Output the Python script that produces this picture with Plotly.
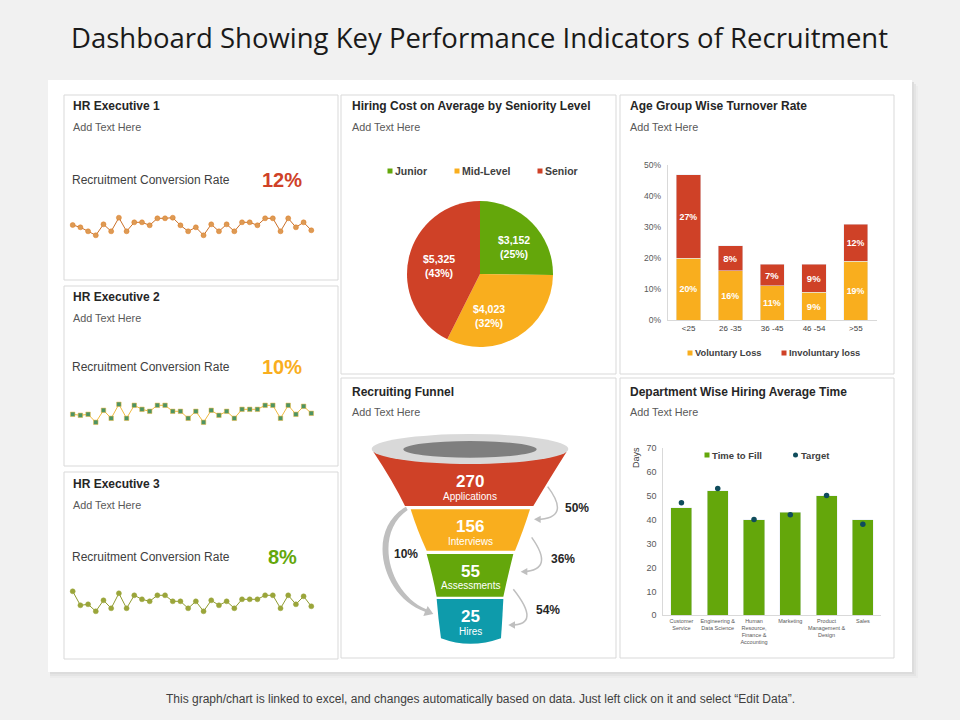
import plotly.graph_objects as go

# --- data ---
exec1_rate = [25, 22.7, 18.7, 14.7, 25.7, 18.7, 32.3, 18.7, 27.7, 27.7, 24.7, 31.7, 31.7, 32.3, 24.7, 18.7,
              22.7, 14.7, 25.7, 18.7, 25.7, 18.7, 27.7, 27.7, 24.7, 31.7, 31.7, 18.7, 31.7, 22.7, 27.7, 19.7]
exec2_rate = [20.7, 19.7, 20.7, 12.7, 24.7, 16.7, 30.7, 16.7, 29.7, 25.7, 23.7, 29.7, 29.7, 23.7, 23.7, 16.7,
              23.7, 12.7, 24.7, 19.7, 23.7, 16.7, 25.7, 25.7, 25.7, 29.7, 29.7, 16.7, 29.7, 20.7, 28.7, 21.7]
exec3_rate = [33.7, 19.7, 20.7, 13.7, 24.7, 16.7, 31.7, 16.7, 29.7, 25.7, 23.7, 29.7, 29.7, 23.7, 23.7, 16.7,
              23.7, 13.7, 24.7, 19.7, 23.7, 16.7, 25.7, 25.7, 25.7, 29.7, 29.7, 16.7, 29.7, 20.7, 28.7, 18.7]
periods = list(range(1, 33))

seniority = ['Junior', 'Mid-Level', 'Senior']
hiring_cost = [3152, 4023, 5325]
hiring_share = [25, 32, 43]

age_groups = ['<25', '26 -35', '36 -45', '46 -54', '>55']
voluntary = [20, 16, 11, 9, 19]
involuntary = [27, 8, 7, 9, 12]

departments = ['Customer<br>Service', 'Engineering &<br>Data Science', 'Human<br>Resource,<br>Finance &<br>Accounting',
               'Marketing', 'Product<br>Management &<br>Design', 'Sales']
time_to_fill = [45, 52, 40, 43, 50, 40]
target = [47, 53, 40, 42, 50, 38]

funnel_counts = [270, 156, 55, 25]
funnel_names = ['Applications', 'Interviews', 'Assessments', 'Hires']

RED = '#cf4127'
ORANGE = '#f9ae1e'
GREEN = '#64a70b'
TEAL = '#0f4c5c'
PAGE = '#f1f1f1'
FONT = 'Liberation Sans'


# page pixels to paper coordinates
def X(px):
    return px / 960


def Y(py):
    return 1 - py / 720


def box(x0, y0, x1, y1, **kw):
    return dict(type='rect', xref='paper', yref='paper', x0=X(x0), x1=X(x1), y0=Y(y0), y1=Y(y1), **kw)


def label(px, py, text, size=10, color='#404040', anchor='left', bold=False, **kw):
    if bold:
        text = '<b>' + text + '</b>'
    return dict(xref='paper', yref='paper', x=X(px), y=Y(py), text=text, showarrow=False, borderpad=0, borderwidth=0,
                xanchor=anchor, yanchor='middle', font=dict(family=FONT, size=size, color=color), **kw)


# funnel shapes are drawn in the zoomed crop's pixels, origin (345,430), scale 3
def Z(zx, zy):
    return '%.5f %.5f' % (X(345 + zx / 3), Y(430 + zy / 3))


def path(d, fill, line=None, width=0):
    return dict(type='path', xref='paper', yref='paper', path=d, fillcolor=fill, layer='above',
                line=dict(color=line or fill, width=width))


shapes = []
annotations = []

# card with soft shadow
for off, col in [(6, '#ececec'), (4, '#e4e4e4'), (2, '#dcdcdc')]:
    shapes.append(box(50, 80 + off, 912 + off, 672 + off, fillcolor=col, line=dict(width=0), layer='below'))
shapes.append(box(48, 80, 912, 672, fillcolor='white', line=dict(width=0), layer='below'))

# panels
panels = [(64, 95, 338, 280), (64, 286, 338, 466), (64, 472, 338, 659), (341, 95, 616, 374),
          (341, 378, 616, 658), (620, 95, 894, 374), (620, 378, 894, 658)]
for p in panels:
    shapes.append(box(*p, fillcolor='rgba(0,0,0,0)', line=dict(color='#d9d9d9', width=1), layer='below'))

titles = [(73, 106, 'HR Executive 1'), (73, 297, 'HR Executive 2'), (73, 484, 'HR Executive 3'),
          (352, 106, 'Hiring Cost on Average by Seniority Level'), (630, 106, 'Age Group Wise Turnover Rate'),
          (352, 392, 'Recruiting Funnel'), (630, 392, 'Department Wise Hiring Average Time')]
for tx, ty, t in titles:
    annotations.append(label(tx, ty, t, size=12, color='#262626', bold=True))
for tx, ty in [(73, 127), (73, 318), (73, 505), (352, 127), (630, 127), (352, 412), (630, 412)]:
    annotations.append(label(tx, ty, 'Add Text Here', size=10.8, color='#595959'))

for ty, big, col in [(180, '12%', RED), (367, '10%', ORANGE), (557, '8%', GREEN)]:
    annotations.append(label(72, ty, 'Recruitment Conversion Rate', size=12, color='#404040'))
    annotations.append(label(282, ty, big, size=20, color=col, anchor='center', bold=True))

# hand placed legends
for lx, ly, name, col, sz in [(390, 171, 'Junior', GREEN, 10.5), (457, 171, 'Mid-Level', ORANGE, 10.5),
                              (540, 171, 'Senior', RED, 10.5), (690, 353, 'Voluntary Loss', ORANGE, 9.3),
                              (784, 353, 'Involuntary loss', RED, 9.3), (707, 455, 'Time to Fill', GREEN, 9.5)]:
    shapes.append(box(lx - 2.5, ly - 2.5, lx + 2.5, ly + 2.5, fillcolor=col, line=dict(width=0)))
    annotations.append(label(lx + 5, ly, name, size=sz, color='#404040', bold=True))
shapes.append(dict(type='circle', xref='paper', yref='paper', x0=X(793), x1=X(798), y0=Y(452.5), y1=Y(457.5),
                   fillcolor=TEAL, line=dict(width=0)))
annotations.append(label(801, 455, 'Target', size=9.5, color='#404040', bold=True))
annotations.append(label(636, 458, 'Days', size=9, color='#404040', anchor='center', textangle=-90))

# pie labels
for (tx, ty), amount, share in zip([(514, 247), (489, 316), (439, 266)], hiring_cost, hiring_share):
    annotations.append(label(tx, ty, '${:,}<br>({}%)'.format(amount, share), size=10.5, color='white',
                             anchor='center', bold=True))

# funnel body
shapes.append(path('M' + Z(85, 65) + ' Q' + Z(145, 155) + ' ' + Z(180, 228) + ' L' + Z(565, 228)
                   + ' Q' + Z(608, 155) + ' ' + Z(665, 65) + ' Z', RED))
shapes.append(path('M' + Z(197, 238) + ' Q' + Z(218, 305) + ' ' + Z(245, 362) + ' L' + Z(510, 362)
                   + ' Q' + Z(534, 305) + ' ' + Z(555, 238) + ' Z', ORANGE))
shapes.append(path('M' + Z(245, 372) + ' Q' + Z(264, 440) + ' ' + Z(275, 500) + ' L' + Z(475, 500)
                   + ' Q' + Z(488, 440) + ' ' + Z(505, 372) + ' Z', GREEN))
shapes.append(path('M' + Z(275, 507) + ' Q' + Z(280, 570) + ' ' + Z(288, 625) + ' Q' + Z(375, 658) + ' ' + Z(468, 625)
                   + ' Q' + Z(472, 570) + ' ' + Z(475, 507) + ' Z', '#0e9bab'))
shapes.append(dict(type='circle', xref='paper', yref='paper', layer='above', fillcolor='#d9d9d9', line=dict(width=0),
                   x0=X(345 + 80 / 3), x1=X(345 + 670 / 3), y0=Y(430 + 12 / 3), y1=Y(430 + 102 / 3)))
shapes.append(dict(type='circle', xref='paper', yref='paper', layer='above', fillcolor='#7f7f7f', line=dict(width=0),
                   x0=X(345 + 175 / 3), x1=X(345 + 575 / 3), y0=Y(430 + 33 / 3), y1=Y(430 + 83 / 3)))

# conversion arrows: curve plus head
ARROW = '#bfbfbf'
for p0, c, p1 in [((608, 170), (680, 265), (575, 268)), ((560, 322), (630, 420), (535, 425)),
                  ((505, 478), (590, 585), (498, 585))]:
    shapes.append(dict(type='path', xref='paper', yref='paper', layer='above', line=dict(color=ARROW, width=1.5),
                       path='M' + Z(*p0) + ' Q' + Z(*c) + ' ' + Z(*p1)))
    shapes.append(path('M' + Z(p1[0] - 8, p1[1]) + ' L' + Z(p1[0] + 12, p1[1] - 11) + ' L' + Z(p1[0] + 12, p1[1] + 11) + ' Z',
                       ARROW))
shapes.append(path('M' + Z(183, 230) + ' C' + Z(60, 300) + ' ' + Z(110, 500) + ' ' + Z(240, 545) + ' L' + Z(235, 558)
                   + ' L' + Z(265, 552) + ' L' + Z(248, 528) + ' L' + Z(244, 538)
                   + ' C' + Z(130, 490) + ' ' + Z(85, 310) + ' ' + Z(188, 240) + ' Z', ARROW))

for tx, ty, t in [(695, 235, '50%'), (653, 388, '36%'), (608, 541, '54%'), (183, 373, '10%')]:
    annotations.append(label(345 + tx / 3, 430 + ty / 3, t, size=12, color='#262626', anchor='center', bold=True))

# funnel text from the counts
for i, (ny, ty) in enumerate([(155, 198), (290, 333), (425, 467), (560, 604)]):
    annotations.append(label(345 + 375 / 3, 430 + ny / 3, str(funnel_counts[i]), size=17, color='white', anchor='center', bold=True))
    annotations.append(label(345 + 375 / 3, 430 + ty / 3, funnel_names[i], size=10, color='white', anchor='center'))

annotations.append(label(480, 699, 'This graph/chart is linked to excel, and changes automatically based on data. '
                                   'Just left click on it and select “Edit Data”.', size=12, color='#404040', anchor='center'))

fig = go.Figure()

# sparklines
spark = [(exec1_rate, 'x', 'y', '#c9702a', '#dc9a55', '#e07b1f', 'circle', 5),
         (exec2_rate, 'x2', 'y2', '#f0b93f', '#4d9463', '#f0b93f', 'square', 4.5),
         (exec3_rate, 'x3', 'y3', '#8f9b30', '#9aa53a', '#9aa53a', 'circle', 5)]
for vals, xa, ya, lc, mc, oc, sym, ms in spark:
    fig.add_trace(go.Scatter(x=periods, y=vals, xaxis=xa, yaxis=ya, mode='lines+markers', showlegend=False,
                             line=dict(color=lc, width=1), cliponaxis=False,
                             marker=dict(color=mc, size=ms, symbol=sym, line=dict(color=oc, width=0.5))))

# pie
fig.add_trace(go.Pie(labels=seniority, values=hiring_cost, textinfo='none', sort=False,
                     direction='clockwise', rotation=0, showlegend=False,
                     marker=dict(colors=[GREEN, ORANGE, RED], line=dict(width=0)),
                     domain=dict(x=[X(407), X(553)], y=[Y(347), Y(201)])))

# turnover bars
fig.add_trace(go.Bar(x=age_groups, y=voluntary, name='Voluntary Loss', xaxis='x4', yaxis='y4', marker_color=ORANGE,
                     showlegend=False, texttemplate='%{y}', textposition='inside', insidetextanchor='middle',
                     textangle=0, textfont=dict(family=FONT, size=9.5, color='white', weight='bold')))
fig.add_trace(go.Bar(x=age_groups, y=involuntary, name='Involuntary loss', xaxis='x4', yaxis='y4', marker_color=RED,
                     showlegend=False, texttemplate='%{y}', textposition='inside', insidetextanchor='middle',
                     textangle=0, textfont=dict(family=FONT, size=9.5, color='white', weight='bold')))

# hiring time bars and target dots
fig.add_trace(go.Bar(x=departments, y=time_to_fill, name='Time to Fill', xaxis='x5', yaxis='y5', marker_color=GREEN,
                     showlegend=False))
fig.add_trace(go.Scatter(x=departments, y=target, name='Target', xaxis='x5', yaxis='y5', mode='markers', showlegend=False,
                         marker=dict(color=TEAL, size=5.5), cliponaxis=False))

hidden = dict(visible=False, fixedrange=True, automargin=False)
tick_font = dict(family=FONT, size=8.5, color='#595959')
axis_line = dict(showgrid=False, zeroline=False, showline=True, linecolor='#d9d9d9', ticks='', automargin=False)

fig.update_layout(
    width=960, height=720, margin=dict(l=0, r=0, t=0, b=0, pad=0, autoexpand=False), paper_bgcolor=PAGE,
    plot_bgcolor='rgba(0,0,0,0)',
    title=dict(text='Dashboard Showing Key Performance Indicators of Recruitment', x=X(479.5), y=Y(38),
               xanchor='center', yanchor='middle', font=dict(family='Open Sans', size=27.5, color='#1a1a1a')),
    barmode='stack', shapes=shapes, annotations=annotations,
    xaxis=dict(domain=[X(72.7), X(311.3)], range=[1, 32], anchor='y', **hidden),
    yaxis=dict(domain=[Y(250), Y(190)], range=[0, 60], anchor='x', **hidden),
    xaxis2=dict(domain=[X(72.7), X(311.3)], range=[1, 32], anchor='y2', **hidden),
    yaxis2=dict(domain=[Y(435), Y(385)], range=[0, 50], anchor='x2', **hidden),
    xaxis3=dict(domain=[X(72.7), X(311.3)], range=[1, 32], anchor='y3', **hidden),
    yaxis3=dict(domain=[Y(625), Y(575)], range=[0, 50], anchor='x3', **hidden),
    xaxis4=dict(domain=[X(667.7), X(876.7)], anchor='y4', tickfont=dict(family=FONT, size=8, color='#404040'), **axis_line),
    yaxis4=dict(domain=[Y(320), Y(165.3)], range=[0, 50], dtick=10, ticksuffix='%', anchor='x4',
                tickfont=tick_font, ticklabelstandoff=4, **axis_line),
    xaxis5=dict(domain=[X(663.3), X(881)], anchor='y5', tickangle=0,
                tickfont=dict(family=FONT, size=5.5, color='#595959'), **axis_line),
    yaxis5=dict(domain=[Y(615.3), Y(447.7)], range=[0, 70], dtick=10, anchor='x5',
                tickfont=dict(family=FONT, size=9, color='#595959'), ticklabelstandoff=4, **axis_line),
    bargap=0.42,
)

fig.write_html("out.html", config=dict(displayModeBar=False),
               post_script="document.body.style.margin='0';document.body.style.overflow='hidden';"
                           "document.body.style.background='" + PAGE + "';")
